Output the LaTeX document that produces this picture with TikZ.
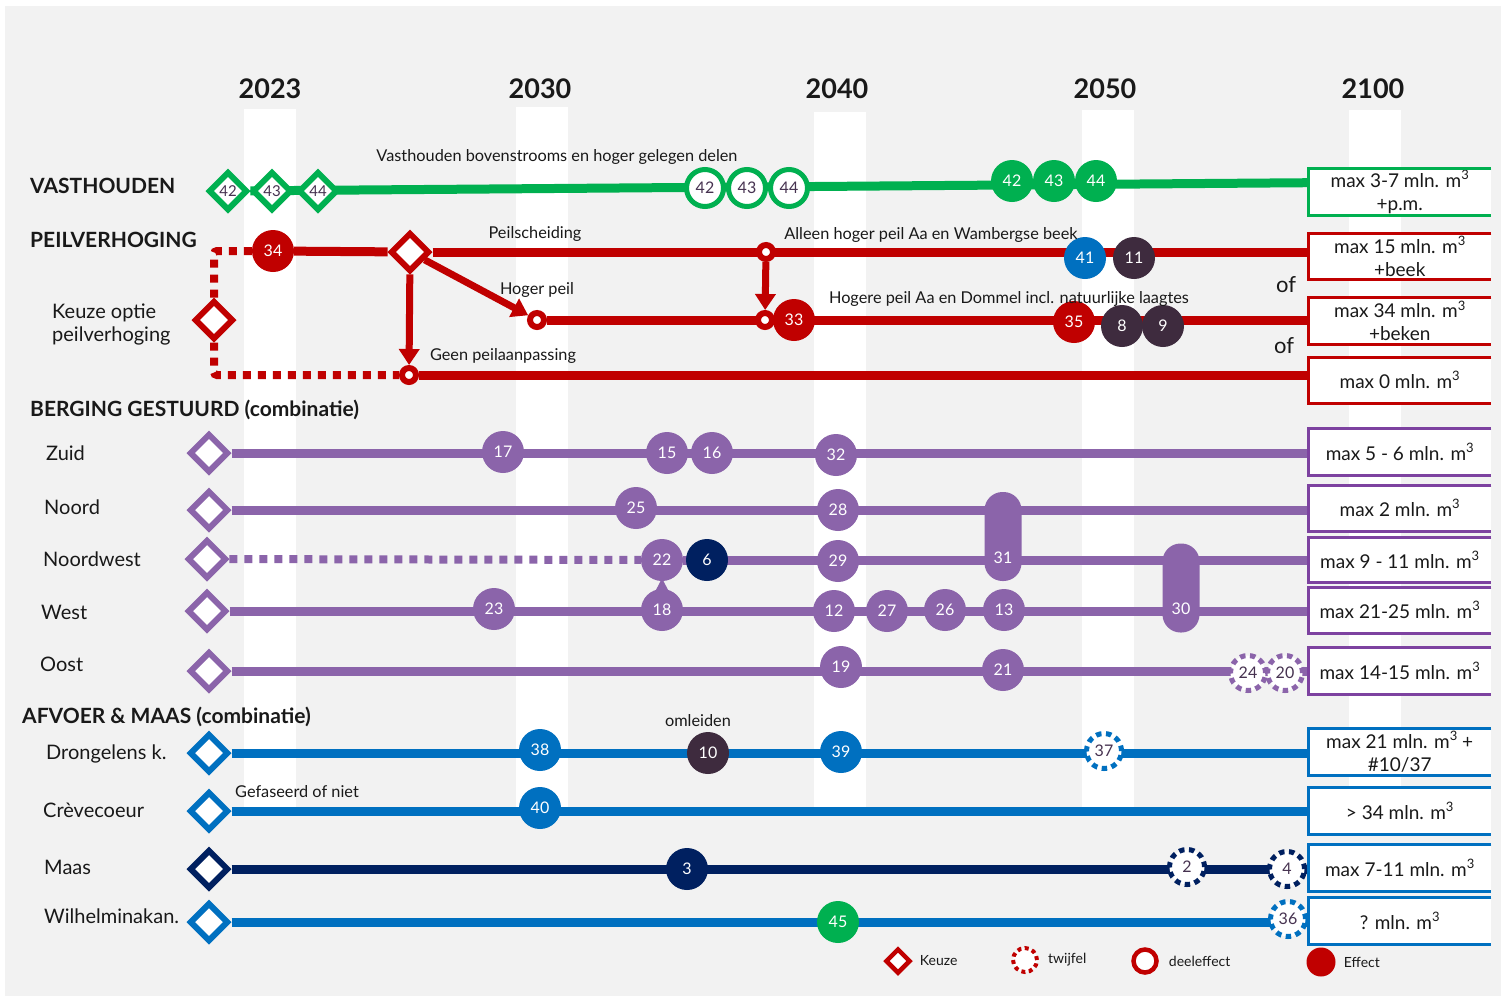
\documentclass[tikz,border=0pt]{standalone}
\usepackage{fontspec}
\setmainfont{Lato}
\usetikzlibrary{calc,arrows.meta,positioning,shapes.geometric}
\definecolor{vGreen}{RGB}{0,176,80}
\definecolor{routeRed}{RGB}{192,0,0}
\definecolor{routePurple}{RGB}{139,100,170}
\definecolor{boxPurple}{RGB}{125,66,160}
\definecolor{routeBlue}{RGB}{0,112,192}
\definecolor{routeNavy}{RGB}{0,32,96}
\definecolor{plum}{RGB}{62,43,62}
\definecolor{ink}{RGB}{25,25,25}
\definecolor{inkPlum}{RGB}{70,50,80}
\definecolor{bgGray}{RGB}{242,242,242}

\pgfdeclarelayer{canvas}
\pgfdeclarelayer{lines}
\pgfsetlayers{canvas,lines,main}

\newcommand\yeartxt{\fontsize{27}{30}\selectfont\bfseries}
\newcommand\headtxt{\fontsize{21}{24}\selectfont\bfseries}
\newcommand\rowtxt{\fontsize{20}{23}\selectfont}
\newcommand\notetxt{\fontsize{16.3}{18}\selectfont}
\newcommand\nodenum{\fontsize{16}{18}\selectfont}
\newcommand\boxtxt{\fontsize{19}{23}\selectfont}
\newcommand\mcube{m\raisebox{0.8ex}{\fontsize{13}{13}\selectfont 3}}

\tikzset{
  keuzeD/.style={diamond,aspect=1,draw=#1,fill=white,line width=6pt,minimum size=39pt,inner sep=0pt,text=inkPlum,font=\fontsize{15}{16}\selectfont},
  effectC/.style={circle,fill=#1,text=white,minimum size=42pt,inner sep=0pt,font=\nodenum},
  deelC/.style={circle,draw=#1,fill=white,line width=5pt,minimum size=37pt,inner sep=0pt,text=inkPlum,font=\nodenum},
  twijfelC/.style={circle,draw=#1,fill=white,line width=5pt,dash pattern=on 5.5pt off 4.5pt,minimum size=35pt,inner sep=0pt,text=inkPlum,font=\nodenum},
  knot/.style={circle,draw=#1,fill=white,line width=6pt,minimum size=14pt,inner sep=0pt},
  pill/.style={rectangle,rounded corners=18pt,fill=routePurple,text=white,minimum width=37pt,inner xsep=0pt,inner ysep=12pt,text depth=6pt,font=\nodenum},
  route/.style={draw=#1,line width=9pt},
  twijfelroute/.style={draw=#1,line width=8pt,dash pattern=on 8pt off 7pt},
  pijl/.style={draw=routeRed,line width=7pt,-{Triangle[length=16pt,width=20pt]}},
  resultbox/.style={fill=white,minimum width=183pt,inner sep=0pt,align=center,anchor=north west,font=\boxtxt,text=ink},
  yearlbl/.style={font=\yeartxt,text=ink,inner sep=0pt},
  heading/.style={font=\headtxt,text=ink,inner sep=0pt,anchor=west},
  rowlbl/.style={font=\rowtxt,text=ink,inner sep=0pt,anchor=west,align=left},
  note/.style={font=\notetxt,text=ink,inner sep=0pt},
  legendlbl/.style={font=\fontsize{14}{16}\selectfont,text=ink,inner sep=0pt}
}

\begin{document}
\begin{tikzpicture}[x=1pt,y=-1pt]
\path[use as bounding box] (0,0) rectangle (1501,997);
\begin{pgfonlayer}{canvas}
\fill[white] (0,0) rectangle (1501,997);
\fill[bgGray] (5,6) rectangle (1501,996);
\foreach \x/\t in {270/109,542/107,840/112,1108/110,1375/110}
  \fill[white] (\x-26,\t) rectangle (\x+26,807);
\end{pgfonlayer}

% jaartallen
\foreach \x/\yr in {270/2023,540/2030,837/2040,1105/2050,1373/2100}
  \node[yearlbl] (y\yr) at (\x,89) {\yr};

% resultaten rechts
\node[resultbox,minimum height=47pt] (gBox) at (1308,168) {max 3-7 mln. \mcube\\+p.m.};
\node[resultbox,minimum height=46pt] (r1Box) at (1308,233) {max 15 mln. \mcube\\+beek};
\node[resultbox,minimum height=47pt] (r2Box) at (1308,297) {max 34 mln. \mcube\\+beken};
\node[resultbox,minimum height=46pt] (r3Box) at (1308,357) {max 0 mln. \mcube};
\node[resultbox,minimum height=47pt] (zuidBox) at (1308,428) {max 5 - 6 mln. \mcube};
\node[resultbox,minimum height=46pt] (noordBox) at (1308,485) {max 2 mln. \mcube};
\node[resultbox,minimum height=45pt] (nwBox) at (1308,537) {max 9 - 11 mln. \mcube};
\node[resultbox,minimum height=46pt] (westBox) at (1308,587) {max 21-25 mln. \mcube};
\node[resultbox,minimum height=47pt] (oostBox) at (1308,647) {max 14-15 mln. \mcube};
\node[resultbox,minimum height=47pt] (drBox) at (1308,728) {max 21 mln. \mcube{} +\\\#10/37};
\node[resultbox,minimum height=47pt] (crBox) at (1308,787) {> 34 mln. \mcube};
\node[resultbox,minimum height=47pt] (maasBox) at (1308,844) {max 7-11 mln. \mcube};
\node[resultbox,minimum height=47pt] (wiBox) at (1308,897) {? mln. \mcube};
\foreach \b/\c in {gBox/vGreen,r1Box/routeRed,r2Box/routeRed,r3Box/routeRed,zuidBox/boxPurple,noordBox/boxPurple,nwBox/boxPurple,westBox/boxPurple,oostBox/boxPurple,drBox/routeBlue,crBox/routeBlue,maasBox/routeBlue,wiBox/routeBlue}
  \draw[draw=\c,line width=3pt] (\b.north east) -| (\b.south west) -- (\b.south east);

% VASTHOUDEN
\node[heading] (hVast) at (30,186) {VASTHOUDEN};
\node[keuzeD=vGreen] (v42) at (228,191) {42};
\node[keuzeD=vGreen] (v43) at (272,191) {43};
\node[keuzeD=vGreen] (v44) at (318,191) {44};
\node[deelC=vGreen] (w42) at (705,188) {42};
\node[deelC=vGreen] (w43) at (747,188) {43};
\node[deelC=vGreen] (w44) at (789,188) {44};
\node[effectC=vGreen] (e42) at (1012,181) {42};
\node[effectC=vGreen] (e43) at (1054,181) {43};
\node[effectC=vGreen] (e44) at (1096,181) {44};
\node[note] (nVast) at (557,157) {Vasthouden bovenstrooms en hoger gelegen delen};

% PEILVERHOGING
\node[heading] (hPeil) at (30,240) {PEILVERHOGING};
\node[rowlbl] (lKeuze) at (52,324) {Keuze optie\\peilverhoging};
\node[keuzeD=routeRed] (keuze) at (214,320) {};
\node[effectC=routeRed] (p34) at (273,251) {34};
\node[keuzeD=routeRed] (split) at (410,252) {};
\node[knot=routeRed] (geen) at (409,375) {};
\node[knot=routeRed] (hoger) at (537,320) {};
\node[knot=routeRed] (alleen) at (766,252) {};
\node[knot=routeRed] (hogere) at (765,320) {};
\node[effectC=routeRed] (p33) at (794,320) {33};
\node[effectC=routeBlue] (p41) at (1085,258) {41};
\node[effectC=plum] (p11) at (1134,258) {11};
\node[effectC=routeRed] (p35) at (1074,322) {35};
\node[effectC=plum] (p8) at (1122,326) {8};
\node[effectC=plum] (p9) at (1163,326) {9};
\node[note] (nScheid) at (535,234) {Peilscheiding};
\node[note] (nHoger) at (537,290) {Hoger peil};
\node[note] (nGeen) at (503,356) {Geen peilaanpassing};
\node[note] (nAlleen) at (931,235) {Alleen hoger peil Aa en Wambergse beek};
\node[note] (nHogere) at (1009,299) {Hogere peil Aa en Dommel incl. natuurlijke laagtes};
\node[font=\fontsize{22}{24}\selectfont,text=ink,inner sep=0pt] (of1) at (1286,285) {of};
\node[font=\fontsize{22}{24}\selectfont,text=ink,inner sep=0pt] (of2) at (1284,346) {of};

% BERGING GESTUURD
\node[heading] (hBerg) at (30,410) {BERGING GESTUURD (combinatie)};
\node[rowlbl] (lZuid) at (46,453) {Zuid};
\node[rowlbl] (lNoord) at (44,507) {Noord};
\node[rowlbl] (lNw) at (43,559) {Noordwest};
\node[rowlbl] (lWest) at (41,612) {West};
\node[rowlbl] (lOost) at (40,664) {Oost};
\node[keuzeD=routePurple] (zuidK) at (209,453) {};
\node[keuzeD=routePurple] (noordK) at (209,510) {};
\node[keuzeD=routePurple] (nwK) at (207,559) {};
\node[keuzeD=routePurple] (westK) at (207,611) {};
\node[keuzeD=routePurple] (oostK) at (209,671) {};
\node[effectC=routePurple] (p17) at (503,452) {17};
\node[effectC=routePurple] (p15) at (667,453) {15};
\node[effectC=routePurple] (p16) at (712,453) {16};
\node[effectC=routePurple] (p32) at (836,455) {32};
\node[effectC=routePurple] (p25) at (636,508) {25};
\node[effectC=routePurple] (p28) at (838,510) {28};
\node[effectC=routePurple] (p22) at (662,560) {22};
\node[effectC=routeNavy] (p6) at (707,560) {6};
\node[effectC=routePurple] (p29) at (838,561) {29};
\node[effectC=routePurple] (p23) at (494,609) {23};
\node[effectC=routePurple] (p18) at (662,610) {18};
\node[effectC=routePurple] (p12) at (834,611) {12};
\node[effectC=routePurple] (p27) at (887,611) {27};
\node[effectC=routePurple] (p26) at (945,610) {26};
\node[effectC=routePurple] (p13) at (1004,610) {13};
\node[pill,text height=59pt] (p31) at (1003,536.5) {31};
\node[pill,text height=59pt] (p30) at (1181,588) {30};
\node[effectC=routePurple] (p19) at (841,667) {19};
\node[effectC=routePurple] (p21) at (1003,670) {21};
\node[twijfelC=routePurple] (t24) at (1248,673) {24};
\node[twijfelC=routePurple] (t20) at (1285,673) {20};

% AFVOER & MAAS
\node[heading] (hAfv) at (22,717) {AFVOER \& MAAS (combinatie)};
\node[rowlbl] (lDr) at (46,754) {Drongelens k.};
\node[rowlbl] (lCr) at (43,810) {Crèvecoeur};
\node[rowlbl] (lMaas) at (44,867) {Maas};
\node[rowlbl] (lWi) at (44,916) {Wilhelminakan.};
\node[keuzeD=routeBlue] (drK) at (209,753) {};
\node[keuzeD=routeBlue] (crK) at (209,811) {};
\node[keuzeD=routeNavy] (maasK) at (209,869) {};
\node[keuzeD=routeBlue] (wiK) at (209,922) {};
\node[effectC=routeBlue] (p38) at (540,750) {38};
\node[effectC=plum] (p10) at (708,753) {10};
\node[effectC=routeBlue] (p39) at (841,752) {39};
\node[twijfelC=routeBlue] (t37) at (1104,751) {37};
\node[effectC=routeBlue] (p40) at (540,808) {40};
\node[effectC=routeNavy] (p3) at (687,869) {3};
\node[twijfelC=routeNavy] (t2) at (1187,867) {2};
\node[twijfelC=routeNavy] (t4) at (1287,869) {4};
\node[effectC=vGreen] (p45) at (838,922) {45};
\node[twijfelC=routeBlue] (t36) at (1288,919) {36};
\node[note] (nOml) at (698,721) {omleiden};
\node[note] (nGef) at (297,792) {Gefaseerd of niet};

% legenda
\node[keuzeD=routeRed,minimum size=25pt,line width=4.5pt] (lgK) at (898,961) {};
\node[legendlbl,right=7pt of lgK] (lgKt) {Keuze};
\node[twijfelC=routeRed,minimum size=24pt,line width=4pt,dash pattern=on 4pt off 3.5pt] (lgT) at (1025,960) {};
\node[legendlbl,right=9pt of lgT] (lgTt) {twijfel};
\node[deelC=routeRed,minimum size=23pt,line width=4.5pt] (lgD) at (1145,961) {};
\node[legendlbl,right=10pt of lgD] (lgDt) {deeleffect};
\node[effectC=routeRed,minimum size=29pt] (lgE) at (1321,962) {};
\node[legendlbl,right=8pt of lgE] (lgEt) {Effect};

% routes
\begin{pgfonlayer}{lines}
\draw[route=vGreen] (v42) -- ([yshift=9pt]gBox.west);
\draw[twijfelroute=routeRed,rounded corners=3pt] (keuze) |- (p34);
\draw[twijfelroute=routeRed,rounded corners=3pt] (keuze) |- (geen);
\draw[route=routeRed] (p34) -- (split);
\draw[route=routeRed] (split) -- (split -| r1Box.west);
\draw[route=routeRed] (hoger) -- (hoger -| r2Box.west);
\draw[route=routeRed] (geen) -- (geen -| r3Box.west);
\draw[pijl] (split) -- (geen);
\draw[pijl] (split) -- (hoger);
\draw[pijl] (alleen) -- (hogere);
\foreach \k/\b in {zuidK/zuidBox,noordK/noordBox,westK/westBox,oostK/oostBox}
  \draw[route=routePurple] (\k) -- (\k -| \b.west);
\draw[twijfelroute=routePurple] (nwK) -- (p22);
\draw[route=routePurple] (p22) -- (p22 -| nwBox.west);
\fill[routePurple] ($(p22.south)+(0,-3)$) -- ($(p18.north)+(-8,5)$) -- ($(p18.north)+(8,5)$) -- cycle;
\foreach \k/\b in {drK/drBox,crK/crBox,wiK/wiBox}
  \draw[route=routeBlue] (\k) -- (\k -| \b.west);
\draw[route=routeNavy] (maasK) -- (maasK -| maasBox.west);
\end{pgfonlayer}
\end{tikzpicture}
\end{document}
